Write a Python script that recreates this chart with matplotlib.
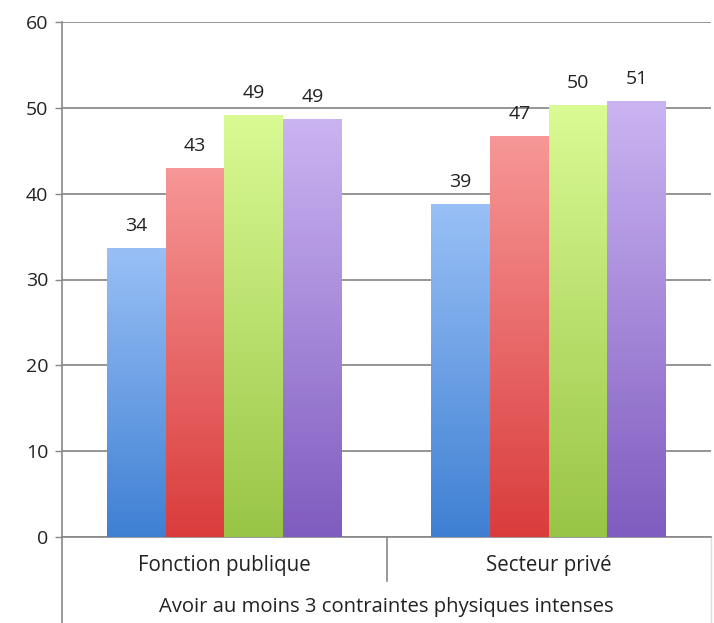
import numpy as np
import matplotlib
matplotlib.use("Agg")
import matplotlib.pyplot as plt
from matplotlib.colors import LinearSegmentedColormap

plt.rcParams["font.family"] = ["Open Sans", "DejaVu Sans"]

groups = ["Fonction publique", "Secteur privé"]
super_label = "Avoir au moins 3 contraintes physiques intenses"
# 4 series per group (no legend in the original)
s1 = [33.7, 38.8]
s2 = [43.0, 46.7]
s3 = [49.2, 50.3]
s4 = [48.7, 50.8]
series = [s1, s2, s3, s4]
# (top colour, bottom colour) for the Excel-like gradient
grads = [("#99c0f6", "#3f80d3"), ("#f79797", "#da3c3c"),
         ("#dafa94", "#98c546"), ("#cbb4f2", "#7f5cbf")]

fig = plt.figure(figsize=(7.14, 6.23), dpi=100)
ax = fig.add_axes([62 / 714, 86 / 623, 649 / 714, 515 / 623])

x = np.arange(len(groups)); w = 0.181
grad = np.linspace(1, 0, 256).reshape(-1, 1)
for i, vals in enumerate(series):
    cmap = LinearSegmentedColormap.from_list("g%d" % i, [grads[i][1], grads[i][0]])
    pos = x + (i - 1.5) * w
    bars = ax.bar(pos, vals, w, color="none", edgecolor="none", zorder=3)
    for b, v in zip(bars, vals):
        im = ax.imshow(grad, cmap=cmap, aspect="auto", zorder=3,
                       extent=(b.get_x(), b.get_x() + b.get_width(), 0, v))
        im.set_clip_path(b)
        ax.text(b.get_x() + b.get_width() / 2, v + 1.5, f"{v:.0f}",
                ha="center", va="bottom", fontsize=14, color="#222222")

ax.set_xlim(-0.5, 1.5)
ax.set_ylim(0, 60)
ax.set_yticks(range(0, 61, 10))
ax.tick_params(axis="y", length=5, width=1, color="#888888", labelsize=14,
               labelcolor="#222222", pad=5)
ax.set_xticks([])
ax.grid(axis="y", color="#8c8c8c", lw=1.3, zorder=0)
for s in ["top", "right"]:
    ax.spines[s].set_visible(False)
ax.spines["left"].set_color("#888888")
ax.spines["bottom"].set_color("#888888")
ax.spines["left"].set_linewidth(1.2)
ax.spines["bottom"].set_linewidth(1.2)

# multi-level category axis below the plot
tr = ax.get_xaxis_transform()
ax.plot([-0.5, -0.5], [0, -0.17], transform=tr, color="#888888", lw=1.2, clip_on=False)
ax.plot([0.5, 0.5], [0, -0.085], transform=tr, color="#888888", lw=1.2, clip_on=False)
ax.plot([1.5, 1.5], [0, -0.17], transform=tr, color="#dddddd", lw=1, clip_on=False)
for xi, g in zip(x, groups):
    ax.text(xi, -0.055, g, transform=tr, ha="center", va="center",
            fontsize=14.8, color="#222222")
ax.text(0.5, -0.136, super_label, transform=tr, ha="center", va="center",
        fontsize=14.6, color="#222222")

fig.savefig("out.png", dpi=100)
